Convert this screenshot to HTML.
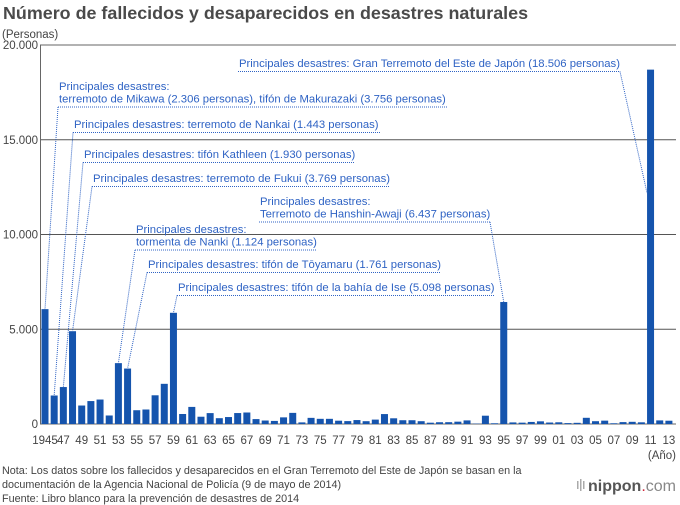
<!DOCTYPE html>
<html><head><meta charset="utf-8">
<style>
body{margin:0;background:#fff;}
svg{display:block;font-family:"Liberation Sans",sans-serif;}
.ann{fill:#2f63c4;font-size:11.3px;}
.tick{fill:#444;font-size:11.5px;}
</style></head>
<body>
<svg id="chart" width="680" height="505" viewBox="0 0 680 505">
<text x="3" y="19" font-size="17.9" font-weight="bold" fill="#4a4a4a">Número de fallecidos y desaparecidos en desastres naturales</text>
<text x="2" y="38" font-size="11.5" fill="#444">(Personas)</text>
<g id="grid"></g>
<g id="bars"></g>
<g id="xlabels"></g>
<g id="annots"></g>
<text x="676" y="459" text-anchor="end" class="tick">(Año)</text>
<text x="2" y="474" font-size="10.8" fill="#444">Nota: Los datos sobre los fallecidos y desaparecidos en el Gran Terremoto del Este de Japón se basan en la</text>
<text x="2" y="488" font-size="10.8" fill="#444">documentación de la Agencia Nacional de Policía (9 de mayo de 2014)</text>
<text x="2" y="502" font-size="10.8" fill="#444">Fuente: Libro blanco para la prevención de desastres de 2014</text>
<g>
<rect x="577" y="481" width="1.5" height="8" fill="#aaa"/><rect x="580" y="479" width="1.5" height="12" fill="#aaa"/><rect x="583" y="481" width="1.5" height="8" fill="#aaa"/>
<text x="588" y="491" font-size="16" fill="#555"><tspan font-weight="bold">nippon</tspan><tspan fill="#d0263a">.</tspan><tspan fill="#888">com</tspan></text>
</g>
</svg>
<script>
const years=[];for(let y=1945;y<=2013;y++)years.push(y);
const deaths=[6062,1504,1950,4897,975,1210,1291,449,3212,2926,727,765,1515,2120,5868,528,902,384,575,307,367,578,607,259,183,163,350,587,85,324,273,273,174,153,208,148,232,524,301,199,199,148,69,93,96,123,190,19,438,39,6437,84,71,109,141,78,90,48,62,327,148,177,39,100,115,89,18700,190,173];
const yTicks=[0,5000,10000,15000,20000];
const yTickLabels=["0","5.000","10.000","15.000","20.000"];
const annotations=[
 {year:1945,lines:["Principales desastres:","terremoto de Mikawa (2.306 personas), tifón de Makurazaki (3.756 personas)"],x:58,y:90,end:447},
 {year:1946,lines:["Principales desastres: terremoto de Nankai (1.443 personas)"],x:73,y:128,end:380},
 {year:1947,lines:["Principales desastres: tifón Kathleen (1.930 personas)"],x:83,y:158,end:355},
 {year:1948,lines:["Principales desastres: terremoto de Fukui (3.769 personas)"],x:92,y:182,end:390},
 {year:1995,lines:["Principales desastres:","Terremoto de Hanshin-Awaji (6.437 personas)"],x:259,y:205,end:490,right:true},
 {year:1953,lines:["Principales desastres:","tormenta de Nanki (1.124 personas)"],x:135,y:233,end:317},
 {year:1954,lines:["Principales desastres: tifón de Tōyamaru (1.761 personas)"],x:147,y:268,end:440},
 {year:1959,lines:["Principales desastres: tifón de la bahía de Ise (5.098 personas)"],x:177,y:291,end:495},
 {year:2011,lines:["Principales desastres: Gran Terremoto del Este de Japón (18.506 personas)"],x:238,y:67,end:620,right:true,side:true}
];
const NS="http://www.w3.org/2000/svg";
const X0=45,STEP=9.175,BW=7,Y0=424,YTOP=45,YMAX=20000;
const xs=y=>X0+(y-1945)*STEP;
const ys=v=>Y0-(v/YMAX)*(Y0-YTOP);
function mk(tag,attrs,parent){const e=document.createElementNS(NS,tag);for(const k in attrs)e.setAttribute(k,attrs[k]);parent.appendChild(e);return e;}
const grid=document.getElementById('grid');
yTicks.forEach((t,i)=>{
 const l=mk('line',{x1:40,x2:676,y1:ys(t),y2:ys(t),stroke:t===0?'#666':(t===YMAX?'#999':'#555'),'stroke-width':t===YMAX?1.5:1},grid);
 
 
 const tx=mk('text',{x:38,y:ys(t)+4,'text-anchor':'end',class:'tick'},grid);
 tx.textContent=yTickLabels[i];
 
 
});
const ax=mk('line',{x1:40.5,x2:40.5,y1:YTOP,y2:Y0,stroke:'#666'},grid);


const bars=document.getElementById('bars');
years.forEach((y,i)=>{
 const r=mk('rect',{x:xs(y)-BW/2,y:ys(deaths[i]),width:BW,height:Y0-ys(deaths[i]),fill:'#1554ad'},bars);
 
 
});
const xl=document.getElementById('xlabels');
years.forEach(y=>{
 if((y-1945)%2!==0)return;
 const t=mk('text',{x:xs(y),y:444,'text-anchor':'middle',class:'tick'},xl);
 t.textContent=y===1945?'1945':String(y%100).padStart(2,'0');
 
 
});
const an=document.getElementById('annots');
annotations.forEach(a=>{
 const g=mk('g',{},an);
 
 
 a.lines.forEach((s,j)=>{const t=mk('text',{x:a.x+1,y:a.y+j*12.5,class:'ann'},g);t.textContent=s;});
 const uy=a.y+(a.lines.length-1)*12.5+4.5;
 mk('line',{x1:a.x,x2:a.end,y1:uy,y2:uy,stroke:'#2f63c4','stroke-width':1,'stroke-dasharray':'1 1'},g);
 const i=a.year-1945;
 const bx=a.side?xs(a.year)-BW/2:xs(a.year);
 const by=a.side?193:ys(deaths[i]);
 const sx=a.right?a.end:a.x;
 mk('line',{x1:sx,y1:uy,x2:bx,y2:by,stroke:'#2f63c4','stroke-width':1,'stroke-dasharray':'1 1'},g);
});
</script>
</body></html>
